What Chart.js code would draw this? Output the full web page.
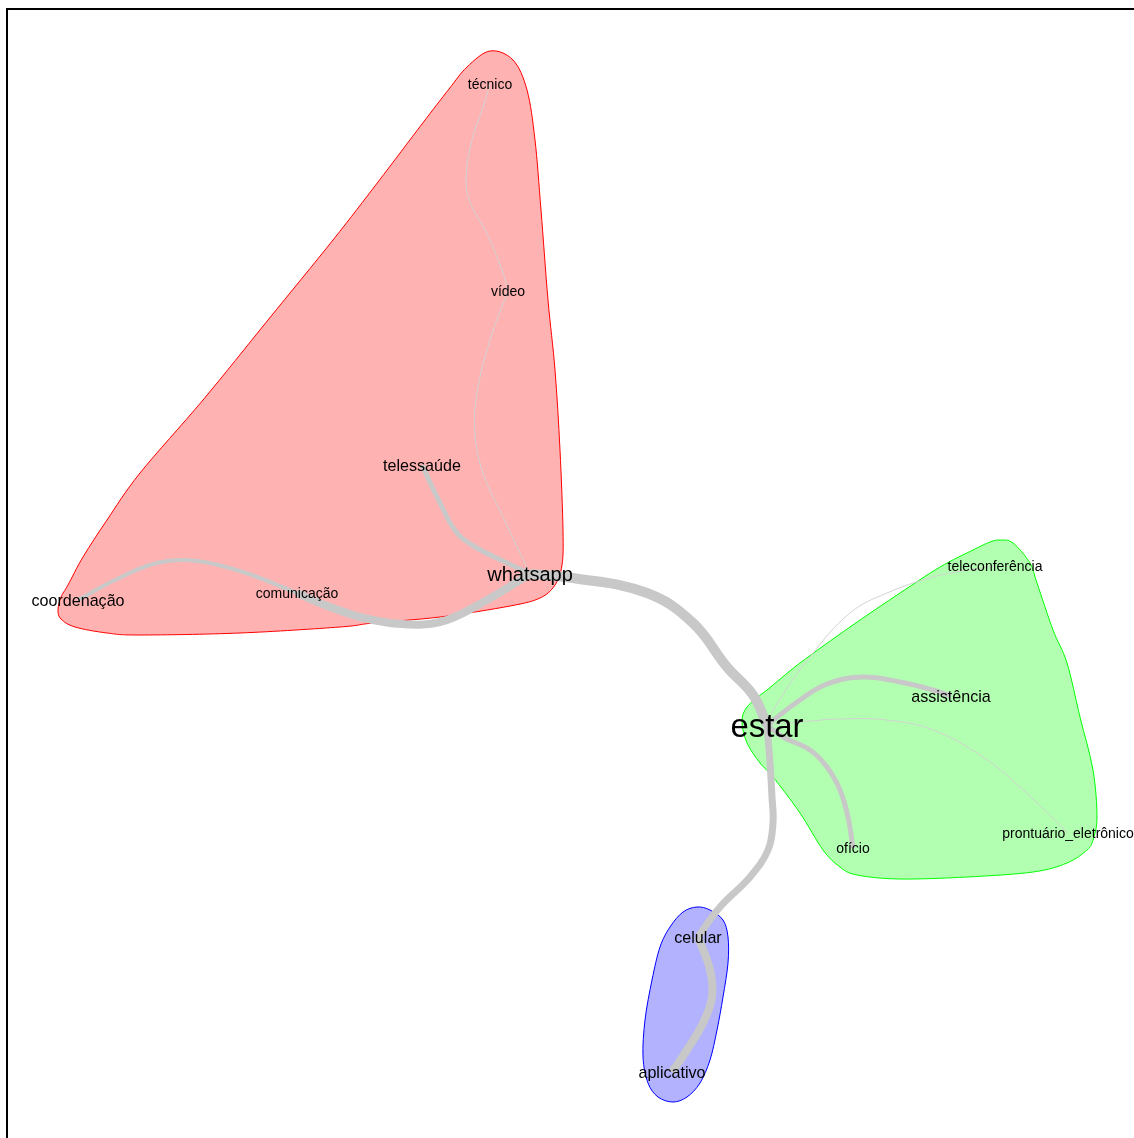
<!DOCTYPE html>
<html>
<head>
<meta charset="utf-8">
<script src="https://cdn.jsdelivr.net/npm/chart.js@4.4.1/dist/chart.umd.min.js"></script>
<style>
html,body{margin:0;padding:0;background:#fff;}
#wrap{width:1134px;height:1138px;position:relative;overflow:hidden;}
canvas{display:block;}
</style>
</head>
<body>
<div id="wrap"><canvas id="c" width="1134" height="1138"></canvas></div>
<script>
// ---- words (graph vertices) ----
const words = ['técnico','vídeo','telessaúde','whatsapp','coordenação','comunicação','estar','teleconferência','assistência','prontuário_eletrônico','ofício','celular','aplicativo'];
const wordX = [490,508,422,530,78,297,767,995,951,1068,853,698,672];
const wordY = [84,291,465,574,600,593,725,566,696,833,848,937,1072];
const wordScale = [1,1,1.15,1.43,1.15,1,2.35,1,1.15,1,1,1.15,1.15]; // relative label size (frequency)
const wordCommunity = [0,0,0,0,0,0,1,1,1,1,1,2,2];

// ---- edges (co-occurrence) ----
const edgeFrom   = [0,1,2,4,5,3,6,6,6,6,6,11];
const edgeTo     = [1,3,3,5,3,6,7,8,9,10,11,12];
const edgeWeight = [1,1,5,4,8,10,1,5,1,5,7,8];
const edgeBends = [
  [[483,107],[472,140],[466,180],[470,202],[487,234],[502,270]],
  [[490,340],[477,393],[475,433],[483,473],[503,517]],
  [[440,503],[457,533],[477,548],[503,561]],
  [[115,580],[153,564],[184,560],[214,564],[249,574]],
  [[325,605],[364,618],[402,624],[440,622],[478,605]],
  [[573,578],[647,593],[693,623],[727,667],[753,695]],
  [[775,707],[810,657],[850,613],[887,593],[933,577],[962,571]],
  [[800,700],[827,684],[863,677],[900,682],[933,690]],
  [[800,722],[840,719],[887,720],[933,730],[983,757],[1020,787]],
  [[783,737],[810,750],[827,767],[840,790],[848,817]],
  [[770,763],[772,797],[773,823],[768,850],[750,877],[720,907]],
  [[710,970],[712,997],[703,1023],[687,1050]]
];

// ---- community hull outlines ----
const hullRed = [[490,51],[513,60],[527,90],[535,140],[541,210],[548,300],[555,370],[560,450],[563,530],[562,565],[555,585],[540,598],[510,606],[440,617],[373,623],[340,627],[240,633],[140,635],[107,633],[75,627],[61,619],[58,610],[61,597],[68,585],[83,557],[107,520],[140,473],[203,400],[268,320],[333,240],[378,182],[422,124],[449,89],[467,67]];
const hullGreen = [[1000,540],[1013,543],[1030,563],[1037,583],[1053,630],[1067,663],[1080,717],[1093,770],[1097,817],[1093,840],[1087,850],[1067,863],[1033,872],[967,877],[900,879],[857,875],[840,867],[823,850],[800,813],[773,777],[760,763],[747,743],[742,723],[745,710],[755,699],[767,690],[800,663],[850,627],[900,593],[940,567],[973,550],[990,542]];
const hullBlue = [[697,907],[710,910],[723,920],[728,937],[728,963],[723,997],[717,1030],[710,1060],[700,1083],[687,1097],[673,1102],[658,1097],[648,1083],[643,1057],[645,1020],[652,980],[660,947],[670,927],[683,912]];

const hulls = [hullRed, hullGreen, hullBlue];
const hullFill = ['#FFB2B2','#B2FFB2','#B2B2FF'];
const hullLine = ['#FF0000','#00FF00','#0000FF'];

const datasets = [];
hulls.forEach((h, i) => {
  datasets.push({
    label: 'hull' + i,
    data: h.map(p => ({x: p[0], y: p[1]})),
    showLine: false, pointRadius: 0, pointHoverRadius: 0,
    isHull: true, hullIndex: i, order: 20
  });
});
edgeFrom.forEach((f, i) => {
  const t = edgeTo[i];
  const pts = [{x: wordX[f], y: wordY[f]}]
    .concat(edgeBends[i].map(p => ({x: p[0], y: p[1]})))
    .concat([{x: wordX[t], y: wordY[t]}]);
  const w = edgeWeight[i];
  datasets.push({
    label: 'edge' + i,
    data: pts,
    showLine: true,
    tension: 0.4,
    borderColor: w <= 1 ? '#D2D2D2' : '#C8C8C8',
    borderWidth: w,
    borderJoinStyle: 'round',
    pointRadius: 0, pointHoverRadius: 0,
    fill: false,
    order: 10 - Math.min(w, 9)
  });
});
datasets.push({
  label: 'words',
  data: words.map((w, i) => ({x: wordX[i], y: wordY[i]})),
  showLine: false, pointRadius: 0, pointHoverRadius: 0,
  isWords: true, order: 0
});

function closedSpline(ctx, pts) {
  const n = pts.length;
  ctx.moveTo(pts[0].x, pts[0].y);
  for (let i = 0; i < n; i++) {
    const p0 = pts[(i - 1 + n) % n], p1 = pts[i], p2 = pts[(i + 1) % n], p3 = pts[(i + 2) % n];
    ctx.bezierCurveTo(
      p1.x + (p2.x - p0.x) / 6, p1.y + (p2.y - p0.y) / 6,
      p2.x - (p3.x - p1.x) / 6, p2.y - (p3.y - p1.y) / 6,
      p2.x, p2.y);
  }
  ctx.closePath();
}

const hullPlugin = {
  id: 'hulls',
  beforeDatasetsDraw(chart) {
    const ctx = chart.ctx;
    chart.data.datasets.forEach((ds, i) => {
      if (!ds.isHull) return;
      const meta = chart.getDatasetMeta(i);
      const pts = meta.data.map(e => ({x: e.x, y: e.y}));
      ctx.save();
      ctx.beginPath();
      closedSpline(ctx, pts);
      ctx.fillStyle = hullFill[ds.hullIndex];
      ctx.fill();
      ctx.lineWidth = 1;
      ctx.strokeStyle = hullLine[ds.hullIndex];
      ctx.stroke();
      ctx.restore();
    });
  }
};

const labelPlugin = {
  id: 'labels',
  afterDatasetsDraw(chart) {
    const ctx = chart.ctx;
    chart.data.datasets.forEach((ds, i) => {
      if (!ds.isWords) return;
      const meta = chart.getDatasetMeta(i);
      meta.data.forEach((el, j) => {
        const size = 14 * wordScale[j];
        ctx.save();
        ctx.font = size.toFixed(1) + 'px "Liberation Sans", Arial, sans-serif';
        ctx.fillStyle = '#000000';
        ctx.textAlign = 'center';
        ctx.textBaseline = 'middle';
        ctx.fillText(words[j], el.x, el.y + size * 0.09);
        ctx.restore();
      });
    });
  }
};

const framePlugin = {
  id: 'frame',
  afterDraw(chart) {
    const ctx = chart.ctx;
    ctx.save();
    ctx.strokeStyle = '#000000';
    ctx.lineWidth = 2;
    ctx.beginPath();
    ctx.moveTo(7, 1200);
    ctx.lineTo(7, 9);
    ctx.lineTo(1200, 9);
    ctx.stroke();
    ctx.restore();
  }
};

new Chart(document.getElementById('c'), {
  type: 'scatter',
  data: { datasets },
  options: {
    responsive: false,
    maintainAspectRatio: false,
    devicePixelRatio: 1,
    animation: false,
    events: [],
    layout: { padding: 0 },
    plugins: { legend: { display: false }, tooltip: { enabled: false }, title: { display: false } },
    scales: {
      x: { type: 'linear', min: 0, max: 1134, display: false },
      y: { type: 'linear', min: 0, max: 1138, reverse: true, display: false }
    }
  },
  plugins: [hullPlugin, labelPlugin, framePlugin]
});
</script>
</body>
</html>
